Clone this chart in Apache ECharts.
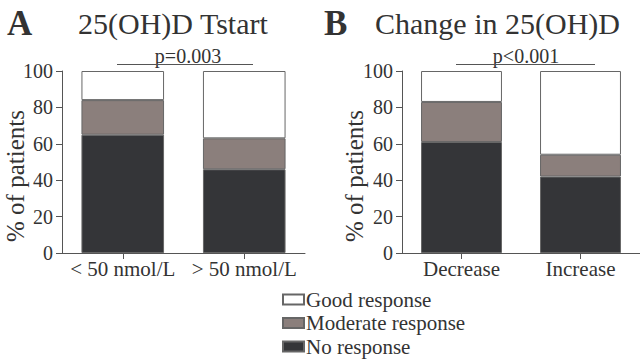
<!DOCTYPE html>
<html><head><meta charset="utf-8">
<script src="https://cdn.jsdelivr.net/npm/echarts@6/dist/echarts.min.js"></script>
<style>html,body{margin:0;padding:0;background:#fff}#c{width:640px;height:359px}</style>
</head><body><div id="c"></div>
<script>
const catsA = ['< 50 nmol/L', '> 50 nmol/L'];
const catsB = ['Decrease', 'Increase'];
const noA = [65, 46];
const modA = [19, 17];
const goodA = [16, 37];
const noB = [61, 42];
const modB = [22, 12];
const goodB = [17, 46];
const yTicks = [0, 20, 40, 60, 80, 100];
const legendNames = ['Good response', 'Moderate response', 'No response'];
const yName = '% of patients';

const FONT = '"Times New Roman", serif';
const TXT = '#333';
const AX = '#555';
const colors = {no: '#343538', mod: '#8b7f7c', good: '#ffffff'};

function xAxis(idx, cats) {
  return {type: 'category', gridIndex: idx, data: cats,
    axisLine: {lineStyle: {color: AX, width: 1}},
    axisTick: {show: true, alignWithLabel: true, length: 6, lineStyle: {color: AX}},
    axisLabel: {interval: 0, fontFamily: FONT, fontSize: 21, color: TXT, margin: 5}};
}
function yAxis(idx) {
  return {type: 'value', gridIndex: idx, min: 0, max: 100, interval: 20,
    axisLine: {show: true, lineStyle: {color: AX, width: 1}},
    axisTick: {show: true, length: 6, lineStyle: {color: AX}},
    splitLine: {show: false},
    axisLabel: {fontFamily: FONT, fontSize: 20, color: TXT, margin: 9,
      formatter: v => yTicks.includes(v) ? String(v) : ''}};
}
function bar(name, data, idx, color, stack) {
  return {name, type: 'bar', stack, xAxisIndex: idx, yAxisIndex: idx, data,
    barWidth: '68%',
    itemStyle: {color, borderColor: '#666', borderWidth: 1}, silent: true};
}
function txt(text, x, y, size, style, extra) {
  return Object.assign({type: 'text', x, y,
    style: Object.assign({text, fontFamily: FONT, fontSize: size, fill: TXT, align: 'left', verticalAlign: 'top'}, style || {})},
    extra || {});
}
const chart = echarts.init(document.getElementById('c'), null, {renderer: 'svg'});
chart.setOption({
  animation: false,
  textStyle: {fontFamily: FONT},
  grid: [
    {left: 62, top: 71, width: 243, height: 182},
    {left: 402, top: 71, width: 252, height: 182}
  ],
  xAxis: [xAxis(0, catsA), xAxis(1, catsB)],
  yAxis: [yAxis(0), yAxis(1)],
  legend: {orient: 'vertical', left: 282, top: 289, height: 80, padding: 0, itemWidth: 21, itemHeight: 10, itemGap: 2.5,
    data: legendNames, icon: 'rect',
    textStyle: {fontFamily: FONT, fontSize: 21, lineHeight: 21, color: TXT, padding: [0, 0, 0, -3]}},
  series: [
    bar(legendNames[2], noA, 0, colors.no, 'a'),
    bar(legendNames[1], modA, 0, colors.mod, 'a'),
    bar(legendNames[0], goodA, 0, colors.good, 'a'),
    bar(legendNames[2], noB, 1, colors.no, 'b'),
    bar(legendNames[1], modB, 1, colors.mod, 'b'),
    bar(legendNames[0], goodB, 1, colors.good, 'b')
  ],
  graphic: [
    txt('A', 7, 6, 35, {fontWeight: 'bold'}),
    txt('25(OH)D Tstart', 78, 8, 30),
    txt('B', 324, 6, 35, {fontWeight: 'bold'}),
    txt('Change in 25(OH)D', 375, 8, 30),
    txt('p=0.003', 188, 55.5, 20, {align: 'center', verticalAlign: 'middle'}),
    {type: 'line', shape: {x1: 117, y1: 64.5, x2: 253, y2: 64.5}, style: {stroke: AX, lineWidth: 1}},
    txt('p<0.001', 526, 55.5, 20, {align: 'center', verticalAlign: 'middle'}),
    {type: 'line', shape: {x1: 456, y1: 64.5, x2: 595, y2: 64.5}, style: {stroke: AX, lineWidth: 1}},
    txt(yName, 15, 176, 25, {align: 'center', verticalAlign: 'middle'}, {rotation: Math.PI / 2}),
    txt(yName, 354, 176, 25, {align: 'center', verticalAlign: 'middle'}, {rotation: Math.PI / 2})
  ]
});
</script></body></html>
